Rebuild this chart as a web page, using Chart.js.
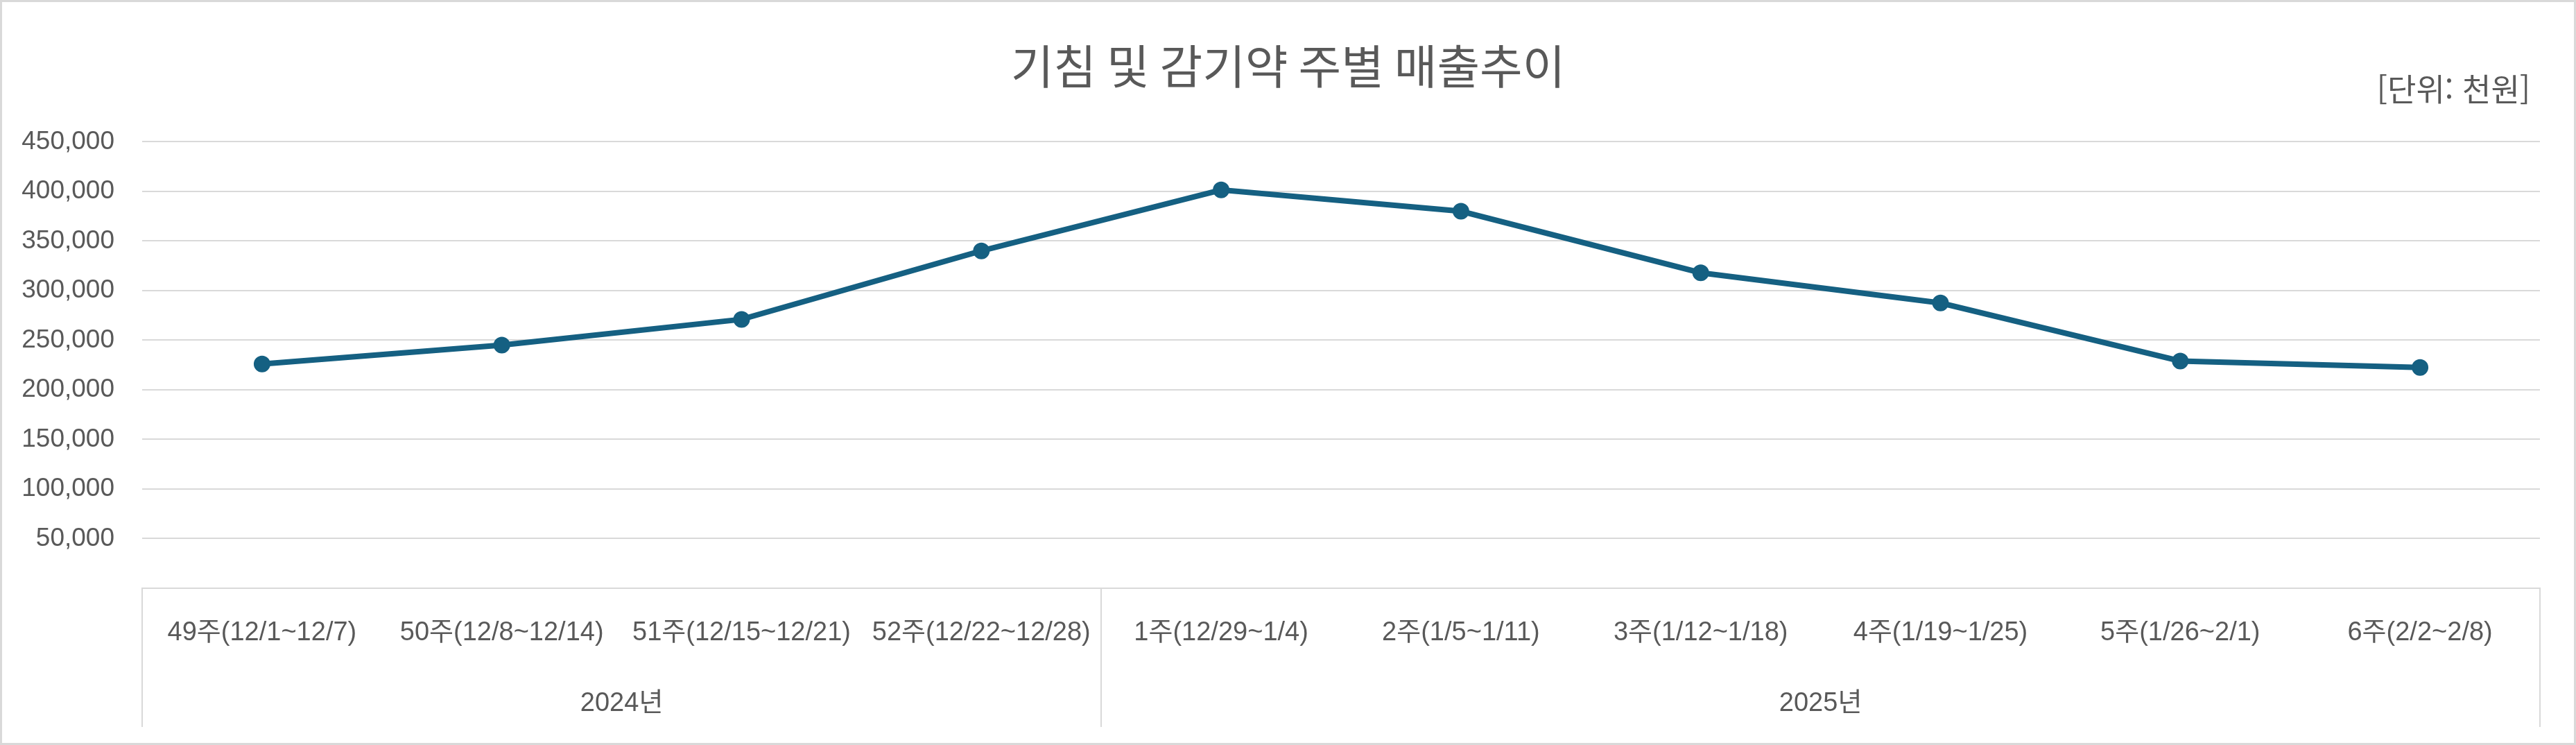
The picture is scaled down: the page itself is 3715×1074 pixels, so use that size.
<!DOCTYPE html>
<html lang="ko">
<head>
<meta charset="utf-8">
<script src="https://cdn.jsdelivr.net/npm/chart.js@4/dist/chart.umd.min.js"></script>
<style>
  html, body { margin: 0; padding: 0; background: #ffffff; }
  #wrap { position: relative; width: 3715px; height: 1074px; overflow: hidden; }
  #c { position: absolute; left: 0; top: 0; }
  #frame { position: absolute; left: 0; top: 0; width: 3715px; height: 1074px; box-sizing: border-box; border: 3px solid #d9d9d9; pointer-events: none; }
  #unit { position: absolute; right: 66px; top: 101px; font-family: 'Noto Sans CJK KR', sans-serif; font-size: 45px; line-height: 52px; color: #595959; white-space: nowrap; }
</style>
</head>
<body>
<div id="wrap">
  <canvas id="c" width="3715" height="1074"></canvas>
  <div id="unit">[단위: 천원]</div>
  <div id="frame"></div>
</div>
<script>
const chartTitle = '기침 및 감기약 주별 매출추이';
const categories = ['49주(12/1~12/7)', '50주(12/8~12/14)', '51주(12/15~12/21)', '52주(12/22~12/28)', '1주(12/29~1/4)', '2주(1/5~1/11)', '3주(1/12~1/18)', '4주(1/19~1/25)', '5주(1/26~2/1)', '6주(2/2~2/8)'];
const years = ['2024년', '2025년'];
const yearSpans = [4, 6];
const sales = [226000, 245000, 271000, 340000, 401500, 380000, 318000, 287500, 229000, 222500];
const yTicks = [0, 50000, 100000, 150000, 200000, 250000, 300000, 350000, 400000, 450000];

const boundaries = [0];
yearSpans.forEach(s => boundaries.push(boundaries[boundaries.length - 1] + s));
const yearCenters = [];
let start = 0;
yearSpans.forEach(s => { yearCenters.push(start + (s - 1) / 2); start += s; });

const yLabelFont = { family: "'Liberation Sans', 'Noto Sans CJK KR', sans-serif", size: 37 };
const xLabelFont = { family: "'Liberation Sans', 'Noto Sans CJK KR', sans-serif", size: 38 };
const textColor = '#595959';
const gridColor = '#d9d9d9';
const lineColor = '#156082';

new Chart(document.getElementById('c'), {
  type: 'line',
  data: {
    labels: categories,
    datasets: [{
      data: sales,
      borderColor: lineColor,
      backgroundColor: lineColor,
      borderWidth: 8,
      pointRadius: 11,
      pointBorderWidth: 2,
      pointBackgroundColor: lineColor,
      pointBorderColor: lineColor,
      tension: 0,
      fill: false
    }]
  },
  options: {
    responsive: false,
    devicePixelRatio: 1,
    animation: false,
    layout: { padding: { top: 0, left: 0, right: 0, bottom: 0 } },
    plugins: {
      legend: { display: false },
      tooltip: { enabled: false },
      title: {
        display: true,
        text: chartTitle,
        color: textColor,
        font: { family: "'Noto Sans CJK KR', sans-serif", size: 67, weight: 'normal' },
        padding: { top: 55, bottom: 69 }
      }
    },
    scales: {
      x: {
        type: 'category',
        position: 'bottom',
        offset: true,
        border: { display: true, color: gridColor, width: 2 },
        grid: {
          display: true,
          offset: true,
          drawOnChartArea: false,
          drawTicks: true,
          tickLength: 200,
          lineWidth: 2,
          color: (ctx) => {
            const i = (ctx.index === undefined) ? categories.length : ctx.index;
            return boundaries.includes(i) ? gridColor : 'rgba(0,0,0,0)';
          }
        },
        ticks: {
          color: textColor,
          font: xLabelFont,
          autoSkip: false,
          maxRotation: 0,
          minRotation: 0,
          padding: -158
        },
        afterFit: (s) => { s.height = 86; }
      },
      x2: {
        type: 'linear',
        position: 'bottom',
        min: -0.5,
        max: categories.length - 0.5,
        border: { display: false },
        grid: { display: false, drawTicks: false },
        afterBuildTicks: (s) => { s.ticks = yearCenters.map(v => ({ value: v })); },
        ticks: {
          color: textColor,
          font: xLabelFont,
          autoSkip: false,
          maxRotation: 0,
          minRotation: 0,
          padding: 58,
          callback: (v, i) => years[i]
        },
        afterFit: (s) => { s.height = 140; }
      },
      y: {
        type: 'linear',
        min: 0,
        max: 450000,
        border: { display: false },
        grid: { color: gridColor, lineWidth: 2, drawTicks: false },
        afterBuildTicks: (s) => { s.ticks = yTicks.map(v => ({ value: v })); },
        ticks: {
          color: textColor,
          font: yLabelFont,
          padding: 40,
          callback: (v) => v === 0 ? '' : v.toLocaleString('en-US')
        },
        afterFit: (s) => { s.width = 205; }
      },
      yR: {
        type: 'linear',
        position: 'right',
        min: 0,
        max: 450000,
        border: { display: false },
        grid: { display: false, drawTicks: false },
        ticks: { display: false },
        afterFit: (s) => { s.width = 52; }
      }
    }
  }
});
</script>
</body>
</html>
